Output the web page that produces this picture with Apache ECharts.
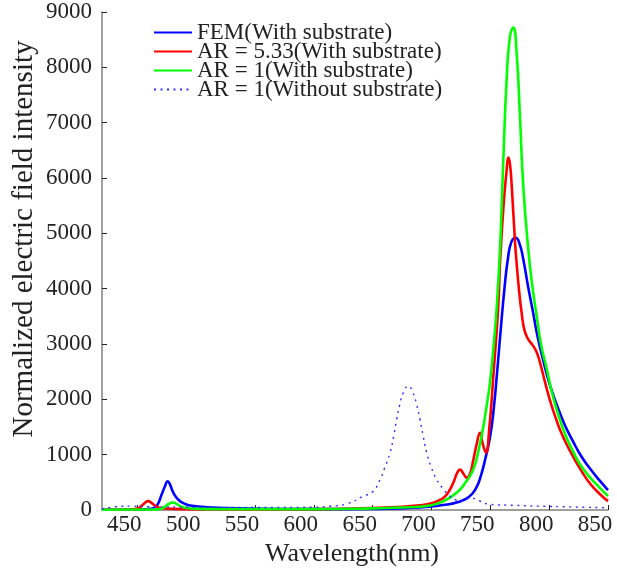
<!DOCTYPE html>
<html><head><meta charset="utf-8">
<script src="https://cdn.jsdelivr.net/npm/echarts@6/dist/echarts.min.js"></script>
<style>html,body{margin:0;padding:0;background:#fff}#c{width:617px;height:572px}</style>
</head><body><div id="c"></div>
<script>
// ---- data ----
const xTickValues = [450, 500, 550, 600, 650, 700, 750, 800, 850];
const seriesNames = ['FEM(With substrate)', 'AR = 5.33(With substrate)', 'AR = 1(With substrate)', 'AR = 1(Without substrate)'];

const wlFEM  = [420, 440, 455, 462, 466.4, 470.7, 473.5, 475.8, 478, 480, 483, 486.3, 490, 495, 509, 546, 600, 650, 690, 710, 722, 732, 738, 742, 746, 750, 753, 756, 759, 762, 765, 768, 771.6, 775, 778, 782, 786.5, 790, 795, 800, 806, 813, 820.5, 827, 835, 843, 850];
const valFEM = [5, 8, 12, 20, 70, 280, 430, 520, 450, 340, 230, 160, 115, 80, 50, 27, 15, 20, 45, 90, 140, 240, 400, 620, 950, 1350, 1850, 2550, 3300, 4000, 4550, 4850, 4920, 4800, 4530, 4050, 3550, 3150, 2700, 2300, 1930, 1550, 1230, 980, 740, 530, 360];

const wlAR533  = [420, 445, 450, 454, 457, 459.3, 462, 465, 468, 475, 490, 530, 600, 640, 670, 690, 700, 708, 713, 718.5, 722, 724.2, 727, 729.9, 732.7, 735.5, 738.5, 741.2, 743.5, 746.3, 749, 752.5, 756.8, 758.2, 761, 763.9, 765.3, 766.7, 768.2, 771, 772.4, 774.5, 776.7, 779, 782.3, 786, 789.4, 792.2, 796, 800.7, 805, 809.2, 815, 820.5, 827, 834.7, 843, 850];
const valAR533 = [5, 10, 25, 80, 140, 160, 130, 80, 45, 25, 15, 10, 15, 30, 55, 85, 120, 190, 280, 490, 680, 730, 660, 585, 650, 900, 1200, 1396, 1200, 1040, 1450, 2400, 3700, 4450, 5430, 6156, 6368, 6250, 5850, 4837, 4450, 3950, 3550, 3250, 3082, 2980, 2850, 2666, 2350, 1980, 1700, 1450, 1180, 960, 720, 480, 290, 160];

const wlAR1  = [420, 465, 468, 472, 476, 480, 483, 486.3, 491, 495, 520, 600, 650, 680, 698.7, 710, 721.4, 729, 735.5, 740, 744, 747, 749.7, 752.5, 755.4, 758.2, 761, 763.9, 766.7, 769.5, 772.4, 775.2, 778, 782.3, 786, 789.4, 793, 797.9, 802, 806.4, 813, 820.5, 827, 834.7, 843, 850];
const valAR1 = [5, 8, 15, 40, 100, 135, 115, 70, 40, 27, 15, 15, 30, 50, 80, 160, 311, 500, 732, 1080, 1500, 1900, 2300, 2900, 3650, 4700, 6300, 7800, 8560, 8718, 8250, 7100, 5850, 4700, 4000, 3504, 3000, 2550, 2150, 1820, 1400, 1050, 800, 590, 400, 250];

const wlAR1NoSub  = [420, 432, 445, 460, 500, 550, 600, 614, 628, 642, 650, 656.3, 660, 664.8, 668, 670.4, 673, 676, 680.3, 684, 687.5, 690.2, 693, 695.9, 700, 704.4, 710, 715.7, 721, 727, 733, 740, 750, 770, 790, 820, 850];
const valAR1NoSub = [20, 60, 70, 60, 50, 45, 50, 70, 110, 250, 330, 551, 750, 1034, 1350, 1636, 1900, 2120, 2240, 2130, 1900, 1636, 1330, 1034, 760, 551, 380, 250, 180, 160, 220, 170, 100, 85, 70, 55, 40];

const zip = (xs, ys) => xs.map((x, i) => [x, ys[i]]);
const FONT = 'Liberation Serif';

const chart = echarts.init(document.getElementById('c'), null, {renderer: 'canvas'});
const solid = (name, color, xs, ys) => ({
  name, type: 'line', data: zip(xs, ys), symbol: 'none', smooth: 0.5,
  lineStyle: {color, width: 2.6}, itemStyle: {color}
});
chart.setOption({
  animation: false,
  backgroundColor: '#ffffff',
  grid: {left: 102, right: 9, top: 12, bottom: 62},
  legend: {
    orient: 'vertical', left: 153, top: 21, padding: 0, itemWidth: 38, itemHeight: 12, itemGap: -4,
    itemStyle: {opacity: 0},
    textStyle: {fontFamily: FONT, fontSize: 23, color: '#222'},
    data: seriesNames
  },
  xAxis: {
    type: 'value', min: 420, max: 850,
    name: 'Wavelength(nm)', nameLocation: 'middle', nameGap: 20,
    nameTextStyle: {fontFamily: FONT, fontSize: 26, color: '#222', padding: [0, 6, 0, 0]},
    axisLine: {show: true, lineStyle: {color: '#808080', width: 1.5}},
    axisTick: {show: true, inside: true, length: 5, customValues: xTickValues, lineStyle: {color: '#222'}},
    axisLabel: {customValues: xTickValues, fontFamily: FONT, fontSize: 23, color: '#222', margin: 3, padding: [0, 26, 0, 0]},
    splitLine: {show: false}
  },
  yAxis: {
    type: 'value', min: 0, max: 9000, interval: 1000,
    axisLine: {show: true, lineStyle: {color: '#808080', width: 1.5}},
    axisTick: {show: true, inside: true, length: 5, lineStyle: {color: '#222'}},
    axisLabel: {fontFamily: FONT, fontSize: 23, color: '#222', margin: 10, formatter: v => String(v)},
    splitLine: {show: false}
  },
  graphic: [{
    type: 'text', x: 24, y: 239, rotation: Math.PI / 2,
    style: {text: 'Normalized electric field intensity', fontFamily: FONT, fontSize: 29, fill: '#222', textAlign: 'center', textVerticalAlign: 'middle'}
  }],
  series: [
    solid(seriesNames[0], '#0000ff', wlFEM, valFEM),
    solid(seriesNames[1], '#ff0000', wlAR533, valAR533),
    solid(seriesNames[2], '#00ff00', wlAR1, valAR1),
    {
      name: seriesNames[3], type: 'line', data: zip(wlAR1NoSub, valAR1NoSub), symbol: 'none', smooth: 0.5,
      lineStyle: {color: '#3030ff', width: 1.4, type: [2, 4.5]}, itemStyle: {color: '#3030ff'}
    }
  ]
});
</script>
</body></html>
